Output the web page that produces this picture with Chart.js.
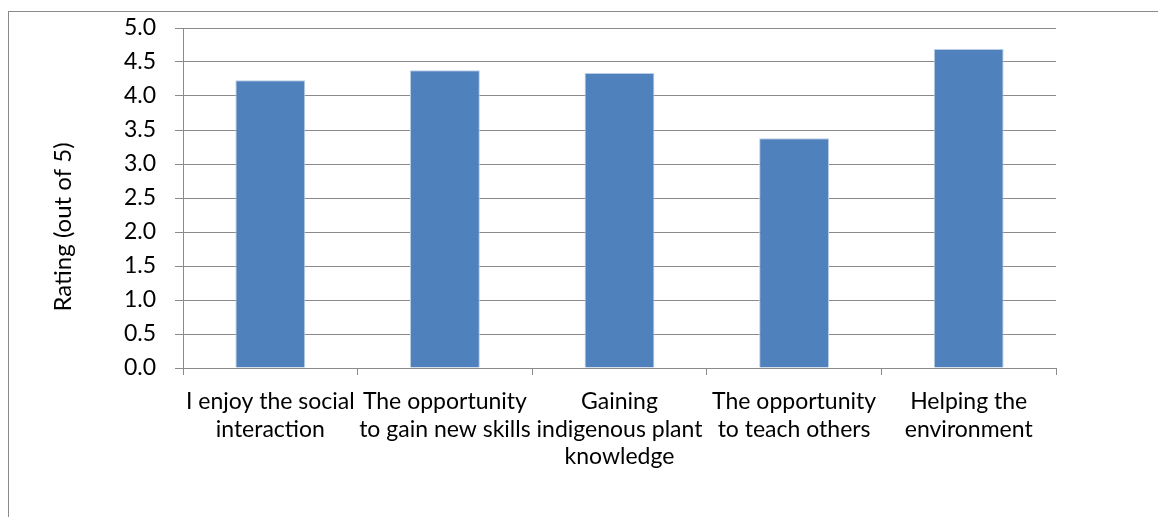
<!DOCTYPE html>
<html>
<head>
<meta charset="utf-8">
<title>Rating chart</title>
<script src="https://cdn.jsdelivr.net/npm/chart.js@4/dist/chart.umd.min.js"></script>
<style>
  body { margin: 0; background: #fff; overflow: hidden; }
</style>
</head>
<body>
<canvas id="ratingBar" width="1158" height="517"></canvas>
<script>
// categories (wrapped the way they show under the axis)
var categories = [
  ["I enjoy the social", "interaction"],
  ["The opportunity", "to gain new skills"],
  ["Gaining", "indigenous plant", "knowledge"],
  ["The opportunity", "to teach others"],
  ["Helping the", "environment"]
];
var ratings = [4.23, 4.38, 4.34, 3.38, 4.69];
var yTicks = [0, 0.5, 1, 1.5, 2, 2.5, 3, 3.5, 4, 4.5, 5];
var yTitle = 'Rating (out of 5)';

var lineGrey = '#8a8a8a';
var fontName = 'Lato, "Open Sans", sans-serif';

// grey frame round the chart, it runs off the right and bottom edges
var framePlugin = {
  id: 'frame',
  beforeDraw: function (chart) {
    var ctx = chart.ctx;
    ctx.save();
    ctx.strokeStyle = lineGrey;
    ctx.lineWidth = 1;
    ctx.strokeRect(8.5, 11.5, 2000, 2000);
    ctx.restore();
  }
};

// y axis title, sits a bit below the middle of the plot
var yTitlePlugin = {
  id: 'yTitle',
  afterDraw: function (chart) {
    var ctx = chart.ctx;
    ctx.save();
    ctx.translate(63, 227);
    ctx.rotate(-Math.PI / 2);
    ctx.fillStyle = '#000';
    ctx.font = '24px ' + fontName;
    ctx.textAlign = 'center';
    ctx.textBaseline = 'middle';
    ctx.fillText(yTitle, 0, 0);
    ctx.restore();
  }
};

var ratingBar = document.getElementById("ratingBar");
var ratingBarConfig = {
  type: 'bar',
  data: {
    labels: categories,
    datasets: [{
      data: ratings,
      backgroundColor: '#4f81bd',
      borderColor: '#b9cde5',
      borderWidth: 1,
      barPercentage: 0.4,
      categoryPercentage: 1
    }]
  },
  options: {
    responsive: false,
    animation: false,
    layout: {
      padding: { left: 0, right: 102, top: 28, bottom: 0 }
    },
    plugins: {
      legend: { display: false },
      tooltip: { enabled: false }
    },
    scales: {
      x: {
        offset: true,
        grid: {
          offset: true,
          drawOnChartArea: false,
          drawTicks: true,
          tickLength: 7,
          color: lineGrey
        },
        border: { color: lineGrey },
        ticks: {
          color: '#000',
          padding: 13,
          maxRotation: 0,
          autoSkip: false,
          font: { family: fontName, size: 23, lineHeight: 1.2 }
        },
        afterFit: function (scale) {
          scale.height = 149;
          scale.paddingLeft = 0;
          scale.paddingRight = 0;
        }
      },
      y: {
        min: 0,
        max: 5,
        afterBuildTicks: function (scale) {
          scale.ticks = yTicks.map(function (v) { return { value: v }; });
        },
        grid: {
          color: lineGrey,
          tickLength: 8
        },
        border: { color: lineGrey },
        ticks: {
          color: '#000',
          padding: 19,
          font: { family: fontName, size: 23 },
          callback: function (v) { return Number(v).toFixed(1); }
        },
        afterFit: function (scale) {
          scale.width = 183;
          scale.paddingTop = 0;
          scale.paddingBottom = 0;
        }
      }
    }
  },
  plugins: [framePlugin, yTitlePlugin]
};
var ratingBarObj = new Chart(ratingBar, ratingBarConfig);
</script>
</body>
</html>
